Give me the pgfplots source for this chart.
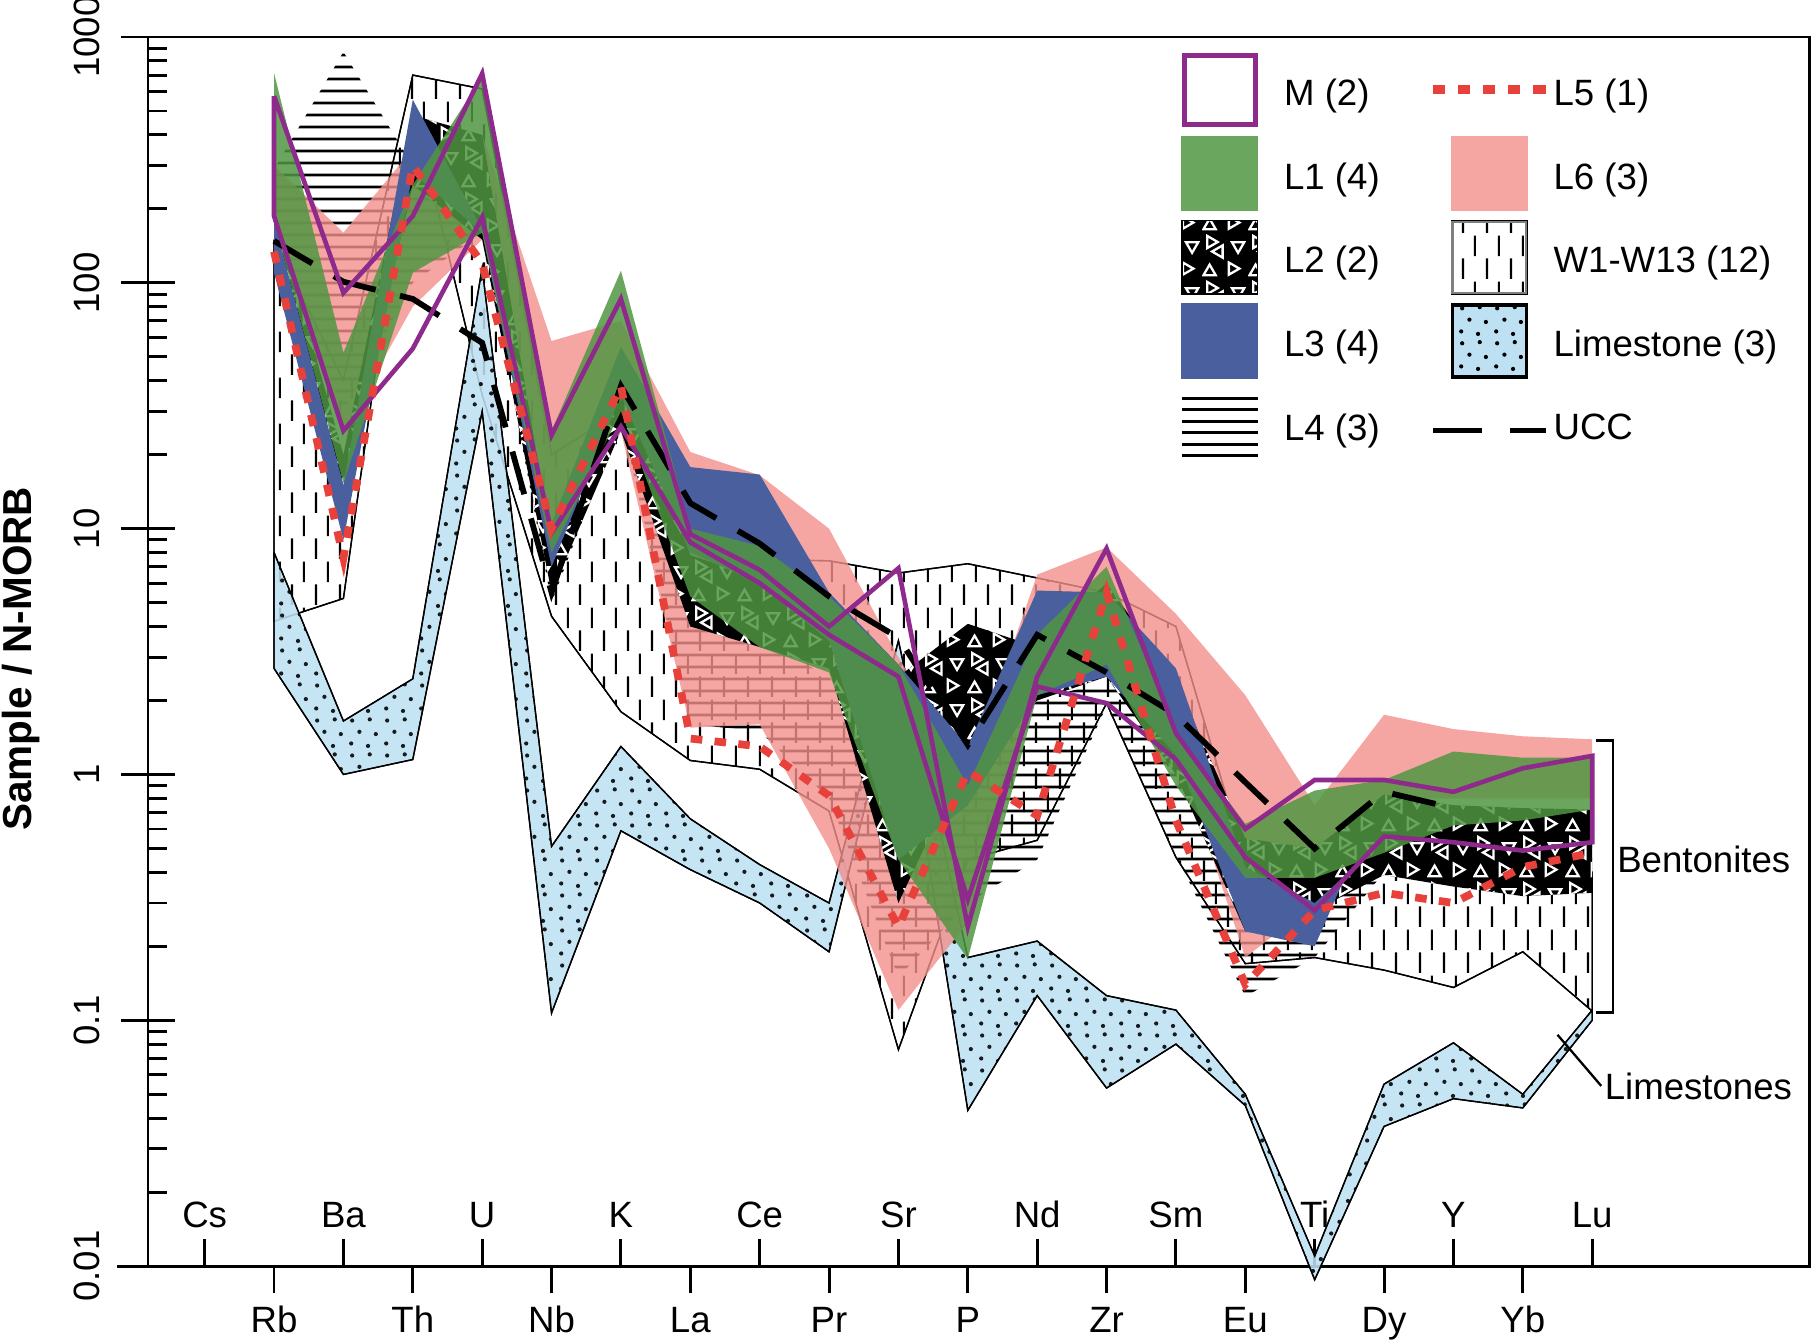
\documentclass[border=0pt]{standalone}
\usepackage{fontspec}
\setmainfont{Liberation Sans}
\usepackage{pgfplots}
\pgfplotsset{compat=1.18}
\usetikzlibrary{patterns}

\definecolor{lgreen}{RGB}{81,150,66}
\definecolor{lgreenleg}{RGB}{107,166,94}
\definecolor{lpink}{RGB}{243,144,140}
\definecolor{lpinkleg}{RGB}{245,166,163}
\definecolor{lblue}{RGB}{74,95,158}
\definecolor{limeblue}{RGB}{189,224,242}
\definecolor{mpurple}{RGB}{142,42,140}
\definecolor{lred}{RGB}{232,64,58}

\pgfdeclarepatternformonly{wdash}{\pgfqpoint{0pt}{0pt}}{\pgfqpoint{6.2pt}{12pt}}{\pgfqpoint{6.2pt}{12pt}}{%
  \pgfsetlinewidth{0.55pt}%
  \pgfpathmoveto{\pgfqpoint{1.55pt}{0.3pt}}\pgfpathlineto{\pgfqpoint{1.55pt}{5.7pt}}%
  \pgfpathmoveto{\pgfqpoint{4.65pt}{6.3pt}}\pgfpathlineto{\pgfqpoint{4.65pt}{11.7pt}}%
  \pgfusepath{stroke}}
\pgfdeclarepatternformonly{ldots}{\pgfqpoint{0pt}{0pt}}{\pgfqpoint{9pt}{9pt}}{\pgfqpoint{9pt}{9pt}}{%
  \pgfpathcircle{\pgfqpoint{1.1pt}{1.45pt}}{0.55pt}%
  \pgfpathcircle{\pgfqpoint{5.5pt}{0.8pt}}{0.55pt}%
  \pgfpathcircle{\pgfqpoint{3.25pt}{4.5pt}}{0.55pt}%
  \pgfpathcircle{\pgfqpoint{7.55pt}{3.9pt}}{0.55pt}%
  \pgfpathcircle{\pgfqpoint{1.35pt}{7.45pt}}{0.55pt}%
  \pgfpathcircle{\pgfqpoint{5.95pt}{7.75pt}}{0.55pt}%
  \pgfusepath{fill}}
\pgfdeclarepatternformonly{hlines}{\pgfqpoint{0pt}{0pt}}{\pgfqpoint{2pt}{3.1pt}}{\pgfqpoint{2pt}{3.1pt}}{%
  \pgfsetlinewidth{0.7pt}%
  \pgfpathmoveto{\pgfqpoint{-0.2pt}{1.55pt}}\pgfpathlineto{\pgfqpoint{2.2pt}{1.55pt}}%
  \pgfusepath{stroke}}
\pgfdeclarepatternformonly{tri}{\pgfqpoint{0pt}{0pt}}{\pgfqpoint{12pt}{12pt}}{\pgfqpoint{12pt}{12pt}}{%
  \pgfsetlinewidth{0.6pt}%
  \pgfpathmoveto{\pgfqpoint{2pt}{4.05pt}}\pgfpathlineto{\pgfqpoint{0.4pt}{1.275pt}}\pgfpathlineto{\pgfqpoint{3.6pt}{1.275pt}}\pgfpathclose
  \pgfpathmoveto{\pgfqpoint{9.85pt}{3pt}}\pgfpathlineto{\pgfqpoint{7.075pt}{4.6pt}}\pgfpathlineto{\pgfqpoint{7.075pt}{1.4pt}}\pgfpathclose
  \pgfpathmoveto{\pgfqpoint{2.65pt}{7.5pt}}\pgfpathlineto{\pgfqpoint{5.425pt}{5.898pt}}\pgfpathlineto{\pgfqpoint{5.425pt}{9.102pt}}\pgfpathclose
  \pgfpathmoveto{\pgfqpoint{9.5pt}{7.15pt}}\pgfpathlineto{\pgfqpoint{11.1pt}{9.925pt}}\pgfpathlineto{\pgfqpoint{7.9pt}{9.925pt}}\pgfpathclose
  \pgfpathmoveto{\pgfqpoint{1.375pt}{11.6pt}}\pgfpathlineto{\pgfqpoint{1.375pt}{8.4pt}}\pgfpathlineto{\pgfqpoint{4.15pt}{10pt}}\pgfpathclose
  \pgfusepath{stroke}}

\begin{document}
\fontsize{9.5}{11.4}\selectfont
\begin{tikzpicture}
\begin{axis}[
  at={(0,0)}, anchor=south west,
  scale only axis, width=431.1pt, height=318.9pt,
  xmin=-0.8167, xmax=23.133,
  ymode=log, ymin=0.01, ymax=1000,
  clip=false,
  axis line style={line width=0.75pt},
  tick style={black, line width=0.75pt},
  major tick length=7pt, minor tick length=5pt,
  tick align=inside,
  xtick pos=bottom, ytick pos=left,
  xtick={0,2,...,20},
  xticklabels={Cs,Ba,U,K,Ce,Sr,Nd,Sm,Ti,Y,Lu},
  xticklabel style={anchor=base, yshift=9.9pt, inner sep=0pt},
  extra x ticks={1,3,...,19},
  extra x tick labels={Rb,Th,Nb,La,Pr,P,Zr,Eu,Dy,Yb},
  extra x tick style={tick align=outside, xticklabel style={yshift=-20.2pt}},
  ytick={0.01,0.1,1,10,100,1000},
  yticklabels={0.01,0.1,1,10,100,1000},
  yticklabel style={xshift=-12.3pt, rotate=90, anchor=south, inner sep=0pt},
  extra y ticks={0.01,0.1,1,10,100,1000},
  extra y tick labels={},
  extra y tick style={tick align=outside},
  ylabel={\fontsize{10.5}{12.6}\selectfont\bfseries Sample / N-MORB},
  ylabel style={at={(axis description cs:-0.0765,0.494)}, anchor=center},
  legend columns=2,
  legend cell align=left,
  legend style={at={(axis description cs:0.6063,0.98786)}, anchor=north west,
    draw=none, fill=none, inner sep=0pt, outer sep=0pt,
    /tikz/row sep=0pt, /tikz/column sep=0pt,
    /tikz/every even column/.append style={column sep=11.7pt},
    nodes={inner sep=0pt}},
]
% W1-W13
\addplot[forget plot, fill=white, draw=black, line width=0.35pt, postaction={pattern=wdash}] coordinates {
(1,150)(2,40)(3,700)(4,615)(5,20)(6,30)(7,8)(8,7.5)(9,7.4)(10,6.6)(11,7.2)(12,6.3)(13,5.5)(14,4.0)(15,0.45)(16,0.4)(17,0.4)(18,0.4)(19,0.4)(20,0.4)
(20,0.109)(19,0.19)(18,0.136)(17,0.16)(16,0.18)(15,0.17)(14,0.46)(13,1.95)(12,0.54)(11,0.45)(10,0.076)(9,0.71)(8,1.05)(7,1.14)(6,1.8)(5,4.4)(4,35)(3,520)(2,5.2)(1,4.2)(1,150)};
% Limestone
\addplot[forget plot, fill=limeblue, fill opacity=0.88, draw=black, line width=0.35pt, postaction={pattern=ldots}] coordinates {
(1,8)(2,1.65)(3,2.45)(4,115)(5,0.51)(6,1.3)(7,0.66)(8,0.43)(9,0.30)(10,3.5)(11,0.18)(12,0.21)(13,0.126)(14,0.11)(15,0.05)(16,0.011)(17,0.055)(18,0.081)(19,0.05)(20,0.11)
(20,0.10)(19,0.044)(18,0.048)(17,0.037)(16,0.0088)(15,0.045)(14,0.08)(13,0.053)(12,0.126)(11,0.043)(10,2.6)(9,0.19)(8,0.30)(7,0.41)(6,0.59)(5,0.107)(4,30)(3,1.15)(2,1.0)(1,2.7)(1,8)};
% L4
\addplot[forget plot, draw=none, pattern=hlines] coordinates {
(1,290)(2,870)(3,300)(4,350)(5,8)(6,50)(7,5)(8,3.5)(9,2.5)(10,1.0)(11,1.0)(12,2.0)(13,2.4)(14,1.6)(15,0.3)(16,0.3)(17,0.6)(18,0.65)(19,0.65)(20,0.65)
(20,0.42)(19,0.42)(18,0.42)(17,0.4)(16,0.18)(15,0.125)(14,0.47)(13,1.9)(12,0.45)(11,0.3)(10,0.15)(9,0.8)(8,1.5)(7,1.6)(6,28)(5,5)(4,160)(3,100)(2,30)(1,150)(1,290)};
% L6
\addplot[forget plot, draw=none, fill=lpink, fill opacity=0.8] coordinates {
(1,300)(2,160)(3,350)(4,400)(5,58)(6,70)(7,20.5)(8,16.5)(9,10)(10,3.0)(11,1.0)(12,6.5)(13,8.4)(14,4.5)(15,2.1)(16,0.75)(17,1.75)(18,1.53)(19,1.43)(20,1.39)
(20,0.8)(19,0.8)(18,0.8)(17,0.8)(16,0.3)(15,0.18)(14,1.3)(13,2.5)(12,2.2)(11,0.25)(10,0.11)(9,0.5)(8,1.6)(7,1.55)(6,25)(5,10)(4,150)(3,80)(2,25)(1,150)(1,300)};
% L2
\addplot[forget plot, draw=none, fill=black, postaction={pattern=tri, pattern color=white}] coordinates {
(1,200)(2,20)(3,480)(4,400)(5,9)(6,50)(7,7.8)(8,6.3)(9,5.0)(10,2.5)(11,4.1)(12,3.3)(13,6.0)(14,2.4)(15,0.55)(16,0.5)(17,0.83)(18,0.75)(19,0.73)(20,0.72)
(20,0.33)(19,0.32)(18,0.35)(17,0.39)(16,0.28)(15,0.23)(14,1.0)(13,2.5)(12,2.0)(11,1.2)(10,0.3)(9,2.7)(8,3.3)(7,4.0)(6,25)(5,5.5)(4,150)(3,250)(2,14)(1,150)(1,200)};
% L3
\addplot[forget plot, draw=none, fill=lblue] coordinates {
(1,180)(2,15)(3,556)(4,165)(5,10.5)(6,55)(7,17.8)(8,16.6)(9,5.5)(10,2.8)(11,1.3)(12,5.6)(13,5.5)(14,2.7)(15,0.42)(16,0.3)(16.45,0.39)
(16,0.2)(15,0.23)(14,1.2)(13,2.5)(12,2.1)(11,0.75)(10,0.45)(9,3.5)(8,6)(7,8)(6,35)(5,7)(4,160)(3,280)(2,9)(1,110)(1,180)};
% L1
\addplot[forget plot, draw=none, fill=lgreen, fill opacity=0.85] coordinates {
(1,714)(2,52)(3,250)(4,690)(5,25)(6,112)(7,10)(8,8.5)(9,5.3)(10,2.8)(11,0.9)(12,3.7)(13,7.0)(14,1.5)(15,0.63)(16,0.86)(17,0.95)(18,1.24)(19,1.17)(20,1.17)
(20,0.72)(19,0.65)(18,0.62)(17,0.48)(16,0.38)(15,0.38)(14,0.9)(13,2.8)(12,2.1)(11,0.178)(10,0.45)(9,2.6)(8,3.3)(7,5.3)(6,30)(5,8)(4,160)(3,110)(2,15.3)(1,180)(1,714)};
% UCC
\addplot[forget plot, black, line width=1.5pt, dash pattern=on 11.5pt off 6.5pt] coordinates {
(1,148)(2,101)(3,86)(4,57)(5,5.5)(6,38)(7,12.7)(8,8.7)(9,5.3)(10,3.6)(11,1.32)(12,3.7)(13,2.6)(14,1.75)(15,0.93)(16,0.5)(17,0.85)(18,0.73)};
% M (2)
\addplot[forget plot, mpurple, line width=1.2pt] coordinates {
(1,575)(2,91)(3,187)(4,710)(5,24)(6,86)(7,9.5)(8,6.8)(9,4.0)(10,6.9)(11,0.24)(12,2.5)(13,8.3)(14,1.47)(15,0.6)(16,0.95)(17,0.95)(18,0.85)(19,1.06)(20,1.19)
(20,0.53)(19,0.49)(18,0.53)(17,0.56)(16,0.28)(15,0.46)(14,1.15)(13,1.95)(12,2.28)(11,0.31)(10,2.5)(9,3.7)(8,6.0)(7,8.8)(6,26)(5,9.6)(4,185)(3,54)(2,25)(1,187)(1,575)};
% L5
\addplot[forget plot, lred, line width=2.0pt, dash pattern=on 3pt off 3.2pt] coordinates {
(1,134)(2,7.6)(3,300)(4,120)(5,10)(6,38)(7,1.4)(8,1.3)(9,0.82)(10,0.24)(11,1.03)(12,0.68)(13,5.5)(14,0.65)(15,0.14)(16,0.28)(17,0.33)(18,0.30)(19,0.42)(20,0.48)};

% legend
\addlegendimage{legend image code/.code={\path[draw=none,fill=none] (-16.7pt,-10.5pt) rectangle (16.7pt,11.2pt);
  \draw[mpurple,line width=1.2pt] (-9.2pt,-7.65pt) rectangle (9.2pt,10.25pt);}}
\addlegendentry{M (2)}
\addlegendimage{legend image code/.code={\path[draw=none,fill=none] (-16.7pt,-10.5pt) rectangle (16.7pt,11.2pt);
  \draw[lred,line width=2.5pt,dash pattern=on 3.2pt off 3.3pt] (-14.6pt,1.5pt) -- (14.6pt,1.5pt);}}
\addlegendentry{L5 (1)}
\addlegendimage{legend image code/.code={\path[draw=none,fill=none] (-16.7pt,-10.5pt) rectangle (16.7pt,11.2pt);
  \fill[lgreenleg] (-9.8pt,-8.25pt) rectangle (9.8pt,10.85pt);}}
\addlegendentry{L1 (4)}
\addlegendimage{legend image code/.code={\path[draw=none,fill=none] (-16.7pt,-10.5pt) rectangle (16.7pt,11.2pt);
  \fill[lpinkleg] (-9.8pt,-8.25pt) rectangle (9.8pt,10.85pt);}}
\addlegendentry{L6 (3)}
\addlegendimage{legend image code/.code={\path[draw=none,fill=none] (-16.7pt,-10.5pt) rectangle (16.7pt,11.2pt);
  \fill[black] (-9.8pt,-8.25pt) rectangle (9.8pt,10.85pt);
  \fill[pattern=tri,pattern color=white] (-9.8pt,-8.25pt) rectangle (9.8pt,10.85pt);}}
\addlegendentry{L2 (2)}
\addlegendimage{legend image code/.code={\path[draw=none,fill=none] (-16.7pt,-10.5pt) rectangle (16.7pt,11.2pt);
  \fill[white] (-9.8pt,-8.25pt) rectangle (9.8pt,10.85pt);
  \fill[pattern=wdash] (-9.8pt,-8.25pt) rectangle (9.8pt,10.85pt);
  \draw[gray,line width=0.6pt] (-9.5pt,-7.95pt) rectangle (9.5pt,10.55pt);}}
\addlegendentry{W1-W13 (12)}
\addlegendimage{legend image code/.code={\path[draw=none,fill=none] (-16.7pt,-10.5pt) rectangle (16.7pt,11.2pt);
  \fill[lblue] (-9.8pt,-8.25pt) rectangle (9.8pt,10.85pt);}}
\addlegendentry{L3 (4)}
\addlegendimage{legend image code/.code={\path[draw=none,fill=none] (-16.7pt,-10.5pt) rectangle (16.7pt,11.2pt);
  \fill[limeblue] (-9.8pt,-8.25pt) rectangle (9.8pt,10.85pt);
  \fill[pattern=ldots] (-9.8pt,-8.25pt) rectangle (9.8pt,10.85pt);
  \draw[black,line width=0.6pt] (-9.5pt,-7.95pt) rectangle (9.5pt,10.55pt);}}
\addlegendentry{Limestone (3)}
\addlegendimage{legend image code/.code={\path[draw=none,fill=none] (-16.7pt,-10.5pt) rectangle (16.7pt,11.2pt);
  \draw[black,line width=0.75pt] (-9.8pt,-6.7pt) -- (9.8pt,-6.7pt);
  \draw[black,line width=0.75pt] (-9.8pt,-3.74pt) -- (9.8pt,-3.74pt);
  \draw[black,line width=0.75pt] (-9.8pt,-0.78pt) -- (9.8pt,-0.78pt);
  \draw[black,line width=0.75pt] (-9.8pt,2.18pt) -- (9.8pt,2.18pt);
  \draw[black,line width=0.75pt] (-9.8pt,5.14pt) -- (9.8pt,5.14pt);
  \draw[black,line width=0.75pt] (-9.8pt,8.1pt) -- (9.8pt,8.1pt);}}
\addlegendentry{L4 (3)}
\addlegendimage{legend image code/.code={\path[draw=none,fill=none] (-16.7pt,-10.5pt) rectangle (16.7pt,11.2pt);
  \draw[black,line width=1.5pt,dash pattern=on 12.6pt off 7.5pt] (-14.6pt,-0.2pt) -- (14.6pt,-0.2pt);}}
\addlegendentry{UCC}

% annotations
\draw[line width=0.75pt] (rel axis cs:0,0) -- ++(-8.1pt,0pt);
\draw[line width=0.75pt] (axis cs:20.05,1.38) -- (axis cs:20.3,1.38) -- (axis cs:20.3,0.108) -- (axis cs:20.05,0.108);
\node[anchor=west, inner sep=0pt] at (axis cs:20.35,0.453) {Bentonites};
\draw[line width=0.6pt] (axis cs:19.5,0.0873) -- (axis cs:20.13,0.0541);
\node[anchor=west, inner sep=0pt] at (axis cs:20.17,0.0536) {Limestones};
\end{axis}
\pgfresetboundingbox
\useasboundingbox (-38.4pt,-19.95pt) rectangle (432pt,328.5pt);
\end{tikzpicture}
\end{document}
